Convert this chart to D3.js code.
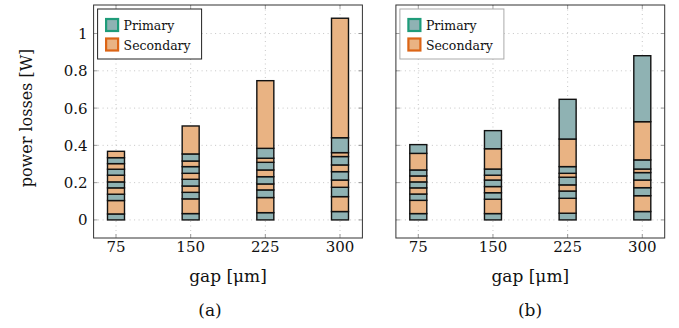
<!DOCTYPE html>
<html lang="en">
  <head>
    <meta charset="utf-8">
    <title>Power losses vs gap</title>
    <script src="https://cdn.jsdelivr.net/npm/d3@7"></script>
    <style>
      body { margin: 0; background: #fff; }
    </style>
  </head>
  <body>
    <script type="text/javascript">
      // gap values (x axis) and y ticks
      var gaps = [75, 150, 225, 300];
      var yTicks = [0, 0.2, 0.4, 0.6, 0.8, 1];

      // stacking order from the bottom, P = primary, S = secondary
      var layersA = ["P", "S", "P", "S", "P", "S", "P", "S", "P", "S"];
      var layersB = ["P", "S", "P", "S", "P", "S", "P", "S", "P"];

      // panel (a): one row per gap, segment losses in W
      var stacksA = [
        [0.032, 0.072, 0.034, 0.034, 0.032, 0.036, 0.032, 0.030, 0.032, 0.034],
        [0.034, 0.079, 0.035, 0.034, 0.036, 0.032, 0.036, 0.030, 0.038, 0.150],
        [0.039, 0.081, 0.041, 0.032, 0.039, 0.036, 0.041, 0.022, 0.053, 0.363],
        [0.045, 0.080, 0.050, 0.039, 0.045, 0.036, 0.045, 0.021, 0.080, 0.641]
      ];

      // panel (b)
      var stacksB = [
        [0.034, 0.071, 0.034, 0.033, 0.032, 0.032, 0.032, 0.089, 0.047],
        [0.034, 0.077, 0.035, 0.033, 0.035, 0.026, 0.033, 0.109, 0.097],
        [0.036, 0.080, 0.039, 0.033, 0.041, 0.021, 0.036, 0.148, 0.213],
        [0.045, 0.085, 0.043, 0.041, 0.040, 0.019, 0.049, 0.205, 0.354]
      ];

      var legendNames = ["Primary", "Secondary"];

      var fills = {"P": "#8fb2b3", "S": "#e9b383"};
      var edges = {"P": "#1f9c7a", "S": "#dc6516"};

      var w = 679, h = 328;
      var plotTop = 5, plotBottom = 238;
      var barW = 17;

      var svg = d3.select("body").append("svg")
                  .attr("width", w)
                  .attr("height", h)
                  .style("font-family", "'DejaVu Serif', serif")
                  .attr("fill", "#111");

      var yScale = d3.scaleLinear()
                     .domain([-0.097, 1.153])
                     .range([plotBottom, plotTop]);

      function drawPanel(x0, x1, layers, stacks, showY, legendStroke, caption, capX) {
        var xScale = d3.scaleLinear()
                       .domain([52.5, 322.5])
                       .range([x0, x1]);
        var g = svg.append("g");

        // dotted grid
        g.selectAll(".gx").data(gaps).enter().append("line")
          .attr("x1", function(d) { return xScale(d); })
          .attr("x2", function(d) { return xScale(d); })
          .attr("y1", plotTop).attr("y2", plotBottom)
          .attr("stroke", "#b8b8b8").attr("stroke-width", 0.8)
          .attr("stroke-dasharray", "1,3.5");
        g.selectAll(".gy").data(yTicks).enter().append("line")
          .attr("x1", x0).attr("x2", x1)
          .attr("y1", function(d) { return yScale(d); })
          .attr("y2", function(d) { return yScale(d); })
          .attr("stroke", "#b8b8b8").attr("stroke-width", 0.8)
          .attr("stroke-dasharray", "1,3.5");

        // tick marks (inside, both sides)
        g.selectAll(".tx").data(gaps).enter().append("path")
          .attr("d", function(d) {
            var x = xScale(d);
            return "M" + x + "," + plotBottom + "v-4M" + x + "," + plotTop + "v4";
          })
          .attr("stroke", "#888").attr("stroke-width", 0.8);
        g.selectAll(".ty").data(yTicks).enter().append("path")
          .attr("d", function(d) {
            var y = yScale(d);
            return "M" + x0 + "," + y + "h4M" + x1 + "," + y + "h-4";
          })
          .attr("stroke", "#888").attr("stroke-width", 0.8);

        // stacked bars
        stacks.forEach(function(vals, i) {
          var tops = Array.from(d3.cumsum(vals));
          var segs = vals.map(function(v, j) {
            return {type: layers[j], y0: tops[j] - v, y1: tops[j]};
          });
          g.selectAll(".seg" + i).data(segs).enter().append("rect")
            .attr("x", xScale(gaps[i]) - barW / 2)
            .attr("width", barW)
            .attr("y", function(d) { return yScale(d.y1); })
            .attr("height", function(d) { return yScale(d.y0) - yScale(d.y1); })
            .attr("fill", function(d) { return fills[d.type]; })
            .attr("stroke", "#111")
            .attr("stroke-width", 1.4);
        });

        // frame
        g.append("rect")
          .attr("x", x0).attr("y", plotTop)
          .attr("width", x1 - x0).attr("height", plotBottom - plotTop)
          .attr("fill", "none").attr("stroke", "#333").attr("stroke-width", 1);

        // x tick labels
        g.selectAll(".xl").data(gaps).enter().append("text")
          .attr("x", function(d) { return xScale(d); })
          .attr("y", 252)
          .attr("text-anchor", "middle")
          .attr("font-size", "15px")
          .text(function(d) { return d; });

        g.append("text")
          .attr("x", (x0 + x1) / 2).attr("y", 282)
          .attr("text-anchor", "middle")
          .attr("font-size", "17px")
          .text("gap [\u03bcm]");

        g.append("text")
          .attr("x", capX).attr("y", 316)
          .attr("text-anchor", "middle")
          .attr("font-size", "17px")
          .text(caption);

        if (showY) {
          g.selectAll(".yl").data(yTicks).enter().append("text")
            .attr("x", x0 - 6)
            .attr("y", function(d) { return yScale(d) + 5.5; })
            .attr("text-anchor", "end")
            .attr("font-size", "15px")
            .text(function(d) { return d; });
          g.append("text")
            .attr("transform", "translate(32," + (118) + ") rotate(-90)")
            .attr("text-anchor", "middle")
            .attr("font-size", "16px")
            .text("power losses [W]");
        }

        // legend
        var lx = x0 + 4, ly = 9;
        g.append("rect")
          .attr("x", lx).attr("y", ly)
          .attr("width", 104).attr("height", 50)
          .attr("fill", "#fff").attr("stroke", legendStroke).attr("stroke-width", 1);
        legendNames.forEach(function(name, i) {
          var key = i === 0 ? "P" : "S";
          var yy = ly + 10 + i * 19.5;
          g.append("rect")
            .attr("x", lx + 8.5).attr("y", yy)
            .attr("width", 12).attr("height", 12)
            .attr("fill", fills[key])
            .attr("stroke", edges[key]).attr("stroke-width", 2.2);
          g.append("text")
            .attr("x", lx + 26).attr("y", yy + 11)
            .attr("font-size", "12.5px")
            .text(name);
        });
      }

      drawPanel(93.6, 362.4, layersA, stacksA, true, "#222", "(a)", 210);
      drawPanel(395.9, 664.7, layersB, stacksB, false, "#aaa", "(b)", 530);
    </script>
  </body>
</html>
